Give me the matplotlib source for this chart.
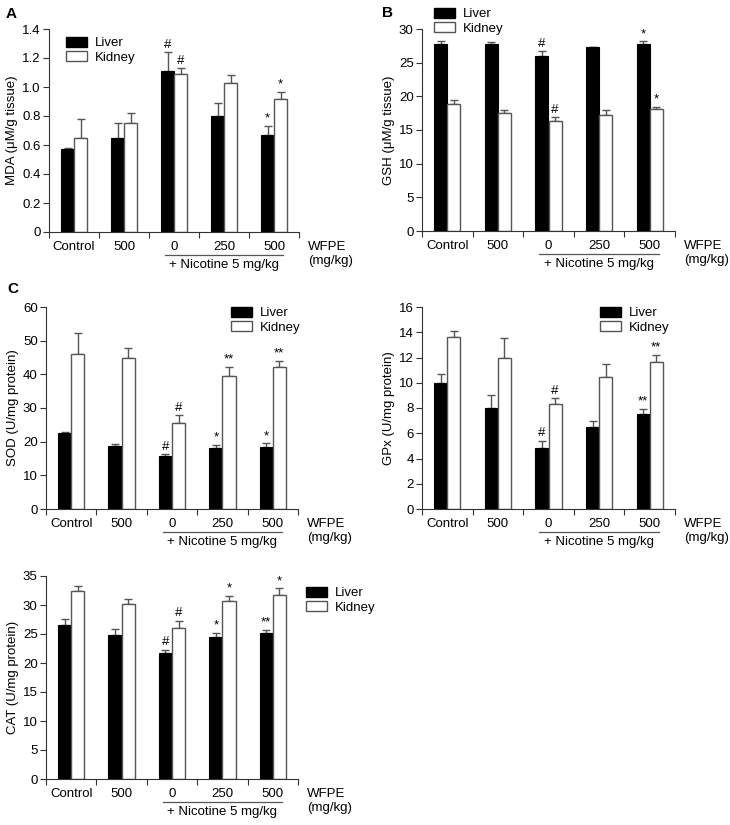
import numpy as np
import matplotlib.pyplot as plt
from matplotlib.patches import Patch
from matplotlib.lines import Line2D

plt.rcParams['font.family'] = ['Liberation Sans', 'DejaVu Sans']
plt.rcParams['font.size'] = 9.5

groups = ['Control', '500', '0', '250', '500']

# MDA
mda_liver = [0.57, 0.65, 1.11, 0.80, 0.67]
mda_liver_err = [0.01, 0.10, 0.13, 0.09, 0.06]
mda_kidney = [0.65, 0.755, 1.09, 1.03, 0.915]
mda_kidney_err = [0.13, 0.065, 0.04, 0.05, 0.05]
mda_liver_sig = ['', '', '#', '', '*']
mda_kidney_sig = ['', '', '#', '', '*']

# GSH
gsh_liver = [27.8, 27.8, 26.0, 27.3, 27.8]
gsh_liver_err = [0.35, 0.2, 0.7, 0.1, 0.35]
gsh_kidney = [18.8, 17.55, 16.4, 17.2, 18.1]
gsh_kidney_err = [0.65, 0.4, 0.5, 0.8, 0.35]
gsh_liver_sig = ['', '', '#', '', '*']
gsh_kidney_sig = ['', '', '#', '', '*']

# SOD
sod_liver = [22.6, 18.6, 15.7, 18.2, 18.4]
sod_liver_err = [0.4, 0.7, 0.6, 0.8, 1.1]
sod_kidney = [45.9, 44.8, 25.5, 39.4, 42.1]
sod_kidney_err = [6.3, 3.1, 2.3, 2.9, 1.9]
sod_liver_sig = ['', '', '#', '*', '*']
sod_kidney_sig = ['', '', '#', '**', '**']

# GPx
gpx_liver = [10.0, 8.0, 4.8, 6.5, 7.5]
gpx_liver_err = [0.66, 1.03, 0.6, 0.5, 0.4]
gpx_kidney = [13.6, 11.95, 8.35, 10.45, 11.65]
gpx_kidney_err = [0.5, 1.6, 0.42, 1.05, 0.58]
gpx_liver_sig = ['', '', '#', '', '**']
gpx_kidney_sig = ['', '', '#', '', '**']

# CAT
cat_liver = [26.6, 24.85, 21.8, 24.45, 25.15]
cat_liver_err = [0.92, 1.0, 0.52, 0.7, 0.52]
cat_kidney = [32.5, 30.2, 26.1, 30.75, 31.65]
cat_kidney_err = [0.7, 0.92, 1.2, 0.8, 1.2]
cat_liver_sig = ['', '', '#', '*', '**']
cat_kidney_sig = ['', '', '#', '*', '*']

W, H = 730, 825
fig = plt.figure(figsize=(W / 100, H / 100), dpi=100)
GRAY = '#555555'


def px_axes(left, top, width, height):
    return fig.add_axes([left / W, 1 - (top + height) / H, width / W, height / H])


def barpanel(ax, liver, liver_err, kidney, kidney_err, liver_sig, kidney_sig,
             ylim, yticks, ylabel, legend_xy):
    x = np.arange(len(groups))
    w = 0.26
    ax.bar(x - w / 2, liver, w, color='black', edgecolor='black', linewidth=0.8, zorder=2)
    ax.bar(x + w / 2, kidney, w, color='white', edgecolor=GRAY, linewidth=1.0, zorder=2)
    ax.errorbar(x - w / 2, liver, yerr=[np.zeros(len(x)), liver_err], fmt='none',
                ecolor=GRAY, elinewidth=1.0, capsize=3, capthick=1.0, zorder=1)
    ax.errorbar(x + w / 2, kidney, yerr=[np.zeros(len(x)), kidney_err], fmt='none',
                ecolor=GRAY, elinewidth=1.0, capsize=3, capthick=1.0, zorder=1)
    for i in range(len(x)):
        if liver_sig[i]:
            ax.annotate(liver_sig[i], (x[i] - w / 2, liver[i] + liver_err[i]),
                        xytext=(0, 1), textcoords='offset points', ha='center', va='bottom')
        if kidney_sig[i]:
            ax.annotate(kidney_sig[i], (x[i] + w / 2, kidney[i] + kidney_err[i]),
                        xytext=(0, 1), textcoords='offset points', ha='center', va='bottom')

    ax.set_xlim(-0.5, len(groups) - 0.5)
    ax.set_ylim(*ylim)
    ax.set_yticks(yticks)
    ax.set_yticklabels([('%g' % t) for t in yticks])
    ax.set_xticks(np.arange(-0.5, len(groups), 1.0))
    ax.set_xticklabels([])
    ax.tick_params(direction='out', length=4, width=0.8, colors='#333333', labelcolor='black')
    ax.tick_params(axis='y', pad=2)
    for s in ['top', 'right']:
        ax.spines[s].set_visible(False)
    for s in ['left', 'bottom']:
        ax.spines[s].set_color('#333333')
        ax.spines[s].set_linewidth(0.8)
    ax.set_ylabel(ylabel, labelpad=3)

    # group labels under the axis
    trans = ax.get_xaxis_transform()
    for i, g in enumerate(groups):
        ax.text(i, -0.072, g, transform=trans, ha='center', va='center')
    ax.text(len(groups) - 0.32, -0.072, 'WFPE', transform=trans, ha='left', va='center')
    ax.text(len(groups) - 0.32, -0.145, '(mg/kg)', transform=trans, ha='left', va='center')
    ax.add_line(Line2D([1.82, 4.18], [-0.115, -0.115], transform=trans, color=GRAY,
                       linewidth=0.9, clip_on=False))
    ax.text(3, -0.165, '+ Nicotine 5 mg/kg', transform=trans, ha='center', va='center')

    handles = [Patch(facecolor='black', edgecolor='black', label='Liver'),
               Patch(facecolor='white', edgecolor=GRAY, label='Kidney')]
    ax.legend(handles=handles, loc='upper left', frameon=False,
              bbox_to_anchor=(legend_xy[0] / W, 1 - legend_xy[1] / H),
              bbox_transform=fig.transFigure, borderpad=0, borderaxespad=0,
              handlelength=1.6, handleheight=0.75, handletextpad=0.6, labelspacing=0.15)


axA = px_axes(49, 29, 250, 203)
barpanel(axA, mda_liver, mda_liver_err, mda_kidney, mda_kidney_err, mda_liver_sig, mda_kidney_sig,
         (0, 1.4), np.arange(0, 1.41, 0.2), 'MDA (\u03bcM/g tissue)', (66, 37))
axA.set_yticklabels(['0', '0.2', '0.4', '0.6', '0.8', '1.0', '1.2', '1.4'])

axB = px_axes(422, 29, 253, 202)
barpanel(axB, gsh_liver, gsh_liver_err, gsh_kidney, gsh_kidney_err, gsh_liver_sig, gsh_kidney_sig,
         (0, 30), np.arange(0, 31, 5), 'GSH (\u03bcM/g tissue)', (434, 8))

axC = px_axes(46, 307, 252, 202)
barpanel(axC, sod_liver, sod_liver_err, sod_kidney, sod_kidney_err, sod_liver_sig, sod_kidney_sig,
         (0, 60), np.arange(0, 61, 10), 'SOD (U/mg protein)', (231, 307))

axD = px_axes(422, 307, 253, 202)
barpanel(axD, gpx_liver, gpx_liver_err, gpx_kidney, gpx_kidney_err, gpx_liver_sig, gpx_kidney_sig,
         (0, 16), np.arange(0, 17, 2), 'GPx (U/mg protein)', (600, 307))

axE = px_axes(46, 576, 252, 203)
barpanel(axE, cat_liver, cat_liver_err, cat_kidney, cat_kidney_err, cat_liver_sig, cat_kidney_sig,
         (0, 35), np.arange(0, 36, 5), 'CAT (U/mg protein)', (306, 587))

fig.text(6 / W, 1 - 14 / H, 'A', fontsize=11, fontweight='bold', va='center')
fig.text(382 / W, 1 - 13 / H, 'B', fontsize=11, fontweight='bold', va='center')
fig.text(7 / W, 1 - 289 / H, 'C', fontsize=11, fontweight='bold', va='center')

fig.savefig('out.png', dpi=100)
